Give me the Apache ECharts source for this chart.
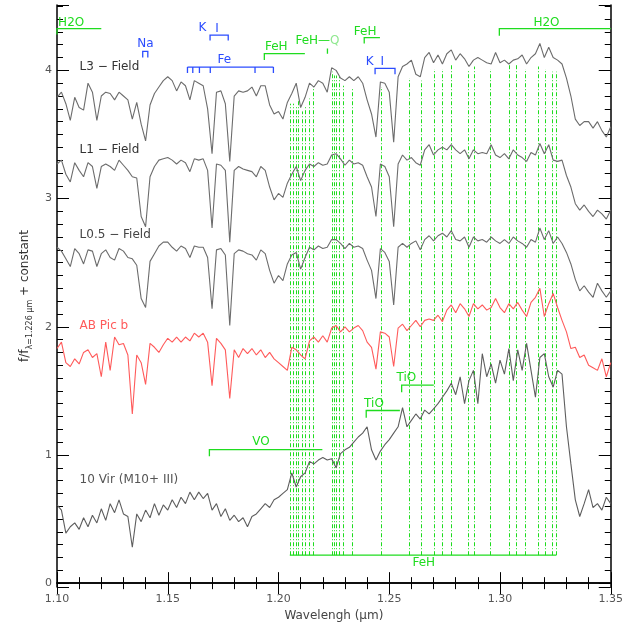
<!DOCTYPE html>
<html><head><meta charset="utf-8">
<script src="https://cdn.jsdelivr.net/npm/echarts@6/dist/echarts.min.js"></script>
<style>html,body{margin:0;padding:0;background:#fff}#c{width:626px;height:627px}</style>
</head><body><div id="c"></div>
<script>
// wavelength sampling of the spectra (um)
const wlStart = 1.100, wlStep = 0.002;
const L3 = [3.79,3.83,3.74,3.61,3.79,3.71,3.69,3.90,3.83,3.61,
3.80,3.83,3.82,3.77,3.83,3.80,3.77,3.62,3.75,3.58,
3.45,3.73,3.82,3.87,3.92,3.95,3.92,3.84,3.91,3.88,
3.77,3.92,3.90,3.88,3.70,3.35,3.83,3.84,3.74,3.29,
3.80,3.84,3.83,3.84,3.87,3.80,3.88,3.88,3.73,3.66,
3.68,3.62,3.75,3.82,3.90,3.71,3.79,3.90,3.87,3.92,
3.90,3.83,4.02,4.00,3.94,3.92,3.95,3.92,3.95,3.90,
3.77,3.66,3.48,3.91,3.90,3.83,3.44,3.95,4.03,4.05,
4.08,3.97,3.95,4.10,4.14,4.06,4.12,4.05,4.13,4.16,
4.08,4.13,4.09,4.03,4.08,4.10,4.08,4.06,4.05,4.14,
4.06,4.08,4.05,4.08,4.09,4.12,4.05,4.10,4.13,4.21,
4.10,4.18,4.10,4.08,4.05,3.94,3.80,3.62,3.57,3.60,
3.60,3.55,3.60,3.53,3.48,3.56];
const L1 = [3.27,3.30,3.19,3.13,3.28,3.22,3.17,3.28,3.25,3.08,
3.25,3.27,3.25,3.22,3.30,3.26,3.22,3.17,3.16,2.86,
2.78,3.17,3.25,3.30,3.31,3.32,3.30,3.27,3.30,3.28,
3.21,3.31,3.30,3.31,3.22,2.77,3.27,3.26,3.22,2.66,
3.22,3.25,3.23,3.22,3.21,3.17,3.25,3.22,3.09,2.99,
3.04,3.01,3.12,3.19,3.25,3.14,3.22,3.27,3.25,3.28,
3.26,3.27,3.34,3.35,3.31,3.26,3.30,3.27,3.28,3.26,
3.17,3.09,2.86,3.27,3.25,3.17,2.78,3.27,3.34,3.30,
3.32,3.28,3.26,3.38,3.42,3.34,3.38,3.40,3.38,3.42,
3.38,3.35,3.38,3.31,3.38,3.35,3.36,3.35,3.42,3.34,
3.32,3.35,3.31,3.38,3.34,3.32,3.29,3.36,3.34,3.43,
3.35,3.42,3.30,3.29,3.30,3.18,3.09,2.96,2.91,2.95,
2.90,2.86,2.91,2.88,2.84,2.91];
const L05 = [2.62,2.59,2.53,2.47,2.61,2.57,2.49,2.60,2.59,2.47,
2.57,2.60,2.54,2.52,2.61,2.59,2.54,2.53,2.48,2.22,
2.15,2.51,2.57,2.63,2.66,2.66,2.62,2.59,2.63,2.61,
2.54,2.63,2.62,2.62,2.54,2.14,2.60,2.61,2.56,2.01,
2.57,2.60,2.59,2.57,2.56,2.52,2.60,2.57,2.44,2.34,
2.40,2.36,2.49,2.56,2.58,2.45,2.54,2.62,2.60,2.63,
2.61,2.62,2.68,2.68,2.65,2.61,2.65,2.62,2.63,2.61,
2.52,2.44,2.22,2.61,2.58,2.51,2.17,2.62,2.65,2.62,
2.65,2.67,2.60,2.68,2.71,2.67,2.71,2.73,2.70,2.75,
2.68,2.67,2.70,2.62,2.70,2.67,2.68,2.66,2.70,2.67,
2.65,2.68,2.65,2.70,2.67,2.65,2.62,2.68,2.66,2.77,
2.68,2.75,2.65,2.70,2.65,2.58,2.49,2.37,2.28,2.32,
2.27,2.23,2.34,2.28,2.23,2.28];
const ABPic = [1.83,1.88,1.72,1.69,1.75,1.71,1.80,1.82,1.76,1.79,
1.61,1.88,1.66,1.92,1.86,1.87,1.78,1.32,1.78,1.72,
1.55,1.87,1.84,1.80,1.86,1.91,1.88,1.92,1.88,1.92,
1.89,1.95,1.92,1.95,1.88,1.54,1.91,1.87,1.82,1.44,
1.82,1.76,1.83,1.79,1.83,1.78,1.82,1.76,1.80,1.75,
1.72,1.69,1.66,1.84,1.82,1.78,1.75,1.89,1.92,1.88,
1.93,1.88,1.99,2.01,1.96,2.00,1.96,1.99,2.01,1.97,
1.88,1.84,1.67,1.96,1.95,1.92,1.69,1.99,2.02,1.97,
2.01,2.05,2.00,2.05,2.06,2.05,2.09,2.04,2.13,2.17,
2.11,2.18,2.14,2.08,2.18,2.14,2.17,2.13,2.15,2.22,
2.15,2.11,2.18,2.14,2.19,2.13,2.08,2.19,2.23,2.30,
2.08,2.18,2.26,2.15,2.05,1.96,1.83,1.84,1.76,1.78,
1.70,1.68,1.66,1.75,1.61,1.72];
const Vir10 = [0.61,0.57,0.39,0.44,0.47,0.42,0.51,0.44,0.53,0.47,
0.58,0.49,0.62,0.55,0.65,0.54,0.52,0.28,0.54,0.48,
0.57,0.51,0.62,0.53,0.61,0.57,0.65,0.59,0.67,0.62,
0.71,0.65,0.71,0.66,0.70,0.57,0.62,0.52,0.58,0.49,
0.53,0.48,0.51,0.44,0.52,0.54,0.58,0.62,0.59,0.65,
0.67,0.70,0.73,0.86,0.75,0.83,0.86,0.95,0.93,0.96,
0.98,0.96,0.97,0.90,1.01,1.04,1.06,1.10,1.14,1.17,
1.22,1.04,0.96,1.03,1.08,1.12,1.17,1.22,1.37,1.22,
1.27,1.32,1.28,1.35,1.32,1.36,1.40,1.45,1.50,1.56,
1.47,1.61,1.40,1.58,1.66,1.40,1.79,1.61,1.71,1.56,
1.74,1.63,1.83,1.58,1.82,1.66,1.87,1.66,1.45,1.76,
1.79,1.61,1.53,1.66,1.63,1.22,0.93,0.65,0.52,0.62,
0.73,0.59,0.62,0.57,0.67,0.62];

// FeH line positions and the heights their markers reach
const fehLines = [1.2051,1.2065,1.2078,1.2090,1.2108,1.2123,1.2138,1.2158,1.2241,1.2252,1.2261,1.2273,1.2293,1.2333,1.2464,1.2589,1.2646,1.2701,1.2739,1.2782,1.2856,1.2883,1.2958,1.3042,1.3075,1.3114,1.3174,1.3203,1.3234,1.3254];
const fehTops = [3.74,3.74,3.72,3.76,3.68,3.72,3.78,3.87,3.99,3.96,3.96,3.95,3.88,3.86,3.87,3.94,3.92,4.01,4.01,4.04,4.00,4.03,4.01,4.05,4.05,4.01,4.03,4.01,3.99,3.99];
const fehBase = 0.218;
const feLines = [1.1589,1.1613,1.1643,1.1692,1.1894,1.1977];

const xTicks = ['1.10','1.15','1.20','1.25','1.30','1.35'];

const GREEN = '#1fdc1f', BLUE = '#2b4cff', RED = '#ff5a5a', GRAY = '#6c6c6c';
const FONT = '"DejaVu Sans", sans-serif';

const wl = L3.map((_, i) => +(wlStart + wlStep * i).toFixed(4));
const pairs = arr => arr.map((v, i) => [wl[i], v]);

const brackets = [
  {c: GREEN, p: [[1.1000,4.28],[1.1000,4.325],[1.120,4.325]]},
  {c: GREEN, p: [[1.2997,4.27],[1.2997,4.325],[1.35,4.325]]},
  {c: BLUE,  p: [[1.1387,4.10],[1.1387,4.148],[1.1410,4.148],[1.1410,4.10]]},
  {c: BLUE,  p: [[1.1691,4.234],[1.1691,4.275],[1.1773,4.275],[1.1773,4.234]]},
  {c: BLUE,  p: [[1.1589,4.026],[1.1977,4.026]]},
  {c: GREEN, p: [[1.1936,4.08],[1.1936,4.13],[1.2119,4.13]]},
  {c: GREEN, p: [[1.2221,4.13],[1.2221,4.17]]},
  {c: GREEN, p: [[1.2387,4.21],[1.2387,4.255],[1.2458,4.255]]},
  {c: BLUE,  p: [[1.2436,3.97],[1.2436,4.015],[1.2526,4.015],[1.2526,3.97]]},
  {c: GREEN, p: [[1.1688,0.99],[1.1688,1.042],[1.2198,1.042]]},
  {c: GREEN, p: [[1.2396,1.29],[1.2396,1.347],[1.2548,1.347]]},
  {c: GREEN, p: [[1.2556,1.49],[1.2556,1.544],[1.2701,1.544]]},
  {c: GREEN, p: [[1.2051,fehBase],[1.3254,fehBase]]}
].concat(feLines.map(x => ({c: BLUE, p: [[x,4.026],[x,3.98]]})));

const labels = [
  {t:'H2O', x:1.1005, y:4.37, c:GREEN, a:'left'},
  {t:'H2O', x:1.321, y:4.37, c:GREEN},
  {t:'Na', x:1.1399, y:4.205, c:BLUE},
  {t:'K', x:1.1657, y:4.33, c:BLUE},
  {t:'I', x:1.1722, y:4.325, c:BLUE},
  {t:'Fe', x:1.1755, y:4.08, c:BLUE},
  {t:'FeH', x:1.199, y:4.18, c:GREEN},
  {t:'{g|FeH—}{q|Q}', x:1.2176, y:4.23, c:GREEN, rich:true},
  {t:'FeH', x:1.2391, y:4.30, c:GREEN},
  {t:'K', x:1.2412, y:4.07, c:BLUE},
  {t:'I', x:1.2469, y:4.065, c:BLUE},
  {t:'VO', x:1.1921, y:1.10, c:GREEN},
  {t:'TiO', x:1.2431, y:1.395, c:GREEN},
  {t:'TiO', x:1.2577, y:1.60, c:GREEN},
  {t:'FeH', x:1.2656, y:0.16, c:GREEN},
  {t:'L3 − Field', x:1.1102, y:4.026, c:'#333', a:'left'},
  {t:'L1 − Field', x:1.1102, y:3.376, c:'#333', a:'left'},
  {t:'L0.5 − Field', x:1.1102, y:2.716, c:'#444', a:'left'},
  {t:'AB Pic b', x:1.1102, y:2.01, c:RED, a:'left'},
  {t:'10 Vir (M10+ III)', x:1.1102, y:0.803, c:'#555', a:'left'}
];

const specLine = (name, arr, color) => ({
  name, type:'line', data: pairs(arr), showSymbol:false, symbol:'none',
  lineStyle:{color, width:1.1}, z:3, silent:true
});

const tickStyle = {lineStyle:{color:'#000', width:1}};
const baseX = {
  type:'value', min:1.10, max:1.35, interval:0.05,
  axisLine:{show:true, lineStyle:{color:'#000', width:1.5}},
  axisTick:{show:true, inside:true, length:11, ...tickStyle},
  minorTick:{show:true, splitNumber:5, length:6, ...tickStyle},
  splitLine:{show:false}
};
const baseY = {
  type:'value', min:-0.03, max:4.51,
  axisLine:{show:true, lineStyle:{color:'#000', width:1.5}},
  axisTick:{show:true, inside:true, length:12, ...tickStyle},
  minorTick:{show:true, splitNumber:10, length:6, ...tickStyle},
  splitLine:{show:false}
};

const chart = echarts.init(document.getElementById('c'), null, {renderer:'canvas'});
chart.setOption({
  animation:false,
  backgroundColor:'#fff',
  textStyle:{fontFamily:FONT},
  grid:{left:57, right:14, top:5, bottom:40},
  xAxis:[
    Object.assign({}, baseX, {position:'bottom',
      axisLabel:{color:'#555', fontSize:11, margin:7, fontFamily:FONT,
        formatter: v => xTicks.find(t => Math.abs(+t - v) < 1e-6) || ''},
      name:'Wavelengh (µm)', nameLocation:'middle', nameGap:23,
      nameTextStyle:{color:'#444', fontSize:12, fontFamily:FONT}}),
    Object.assign({}, baseX, {position:'top', axisLabel:{show:false}})
  ],
  yAxis:[
    Object.assign({}, baseY, {position:'left',
      axisLabel:{color:'#555', fontSize:11, margin:5, fontFamily:FONT, showMinLabel:false, showMaxLabel:false},
      name:'{a|f/f}{s|λ=1.226 µm}{a| + constant}', nameLocation:'middle', nameGap:19, nameRotate:90,
      nameTextStyle:{rich:{
        a:{fontSize:12, color:'#333', fontFamily:FONT, lineHeight:18, verticalAlign:'middle'},
        s:{fontSize:8, color:'#333', fontFamily:FONT, lineHeight:18, verticalAlign:'bottom'}
      }}}),
    Object.assign({}, baseY, {position:'right', axisLabel:{show:false}})
  ],
  series:[
    specLine('L3 - Field', L3, GRAY),
    specLine('L1 - Field', L1, GRAY),
    specLine('L0.5 - Field', L05, GRAY),
    specLine('AB Pic b', ABPic, RED),
    specLine('10 Vir', Vir10, '#5e5e5e'),
    {
      type:'lines', coordinateSystem:'cartesian2d', silent:true, z:2,
      data: fehLines.map((x, i) => ({coords:[[x, fehBase],[x, fehTops[i]]]})),
      lineStyle:{color:GREEN, width:1, type:[4,2,1,2], opacity:1}
    },
    {
      type:'lines', coordinateSystem:'cartesian2d', polyline:true, silent:true, z:4,
      data: brackets.map(b => ({coords:b.p, lineStyle:{color:b.c}})),
      lineStyle:{width:1.3, opacity:1}
    },
    {
      type:'custom', coordinateSystem:'cartesian2d', silent:true, z:5, clip:false,
      data: labels.map(l => [l.x, l.y]),
      renderItem:(params, api) => {
        const l = labels[params.dataIndex];
        const p = api.coord([l.x, l.y]);
        const style = {text:l.t, fill:l.c, font:'12px ' + FONT,
          align:l.a || 'center', verticalAlign:'middle'};
        if (l.rich) style.rich = {g:{fill:GREEN, font:'12px ' + FONT}, q:{fill:'#8fe88f', font:'12px ' + FONT}};
        return {type:'text', x:p[0], y:p[1], style};
      }
    }
  ]
});
</script></body></html>
